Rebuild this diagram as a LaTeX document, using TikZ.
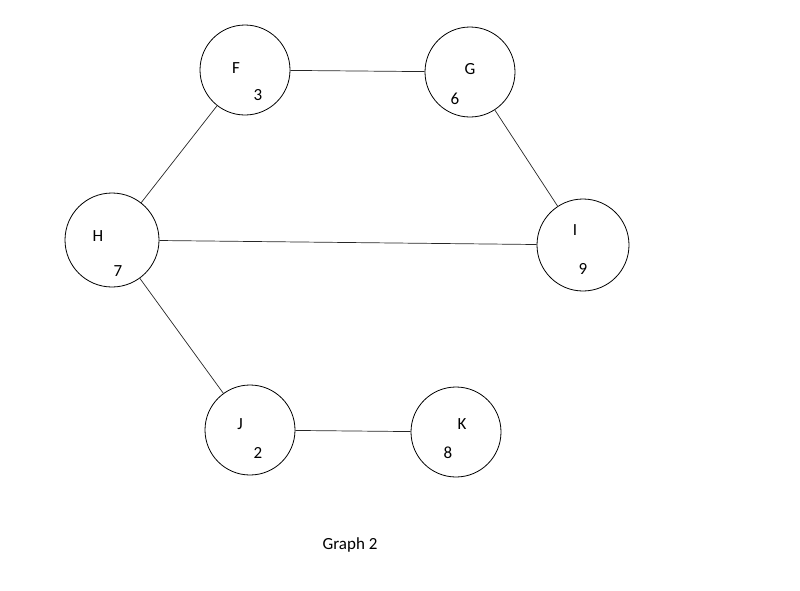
\documentclass[tikz,border=0pt]{standalone}
\usepackage{fontspec}
\setmainfont{Carlito}
\begin{document}
\begin{tikzpicture}[x=1pt,y=-1pt,
  vert/.style={circle,draw,line width=0.8pt,minimum size=90pt,inner sep=0pt},
  lbl/.style={inner sep=0pt,font=\fontsize{17}{17}\selectfont},
  edge/.style={line width=0.7pt,draw=black!85}]
\useasboundingbox (0,0) rectangle (800,590);
\node[vert] (F) at (245,70) {};
\node[vert] (G) at (470,72) {};
\node[vert,minimum size=94pt] (H) at (112,240) {};
\node[vert,minimum size=92pt] (I) at (583,245) {};
\node[vert] (J) at (250,430) {};
\node[vert] (K) at (456,432) {};
\node[lbl] (Fl) at (236,68) {F}; \node[lbl] (Fn) at (258,95) {3};
\node[lbl] (Gl) at (470,69) {G}; \node[lbl] (Gn) at (455,99) {6};
\node[lbl] (Hl) at (98,236) {H}; \node[lbl] (Hn) at (118,271) {7};
\node[lbl] (Il) at (575,230) {I}; \node[lbl] (In) at (583,269) {9};
\node[lbl] (Jl) at (240,424) {J}; \node[lbl] (Jn) at (258,453) {2};
\node[lbl] (Kl) at (462,424) {K}; \node[lbl] (Kn) at (448,453) {8};
\node[lbl] (cap) at (350,545) {Graph 2};
\draw[edge] (F) -- (G);
\draw[edge] (G) -- (I);
\draw[edge] (H) -- (F);
\draw[edge] (H) -- (I);
\draw[edge] (H) -- (J);
\draw[edge] (J) -- (K);
\end{tikzpicture}
\end{document}
